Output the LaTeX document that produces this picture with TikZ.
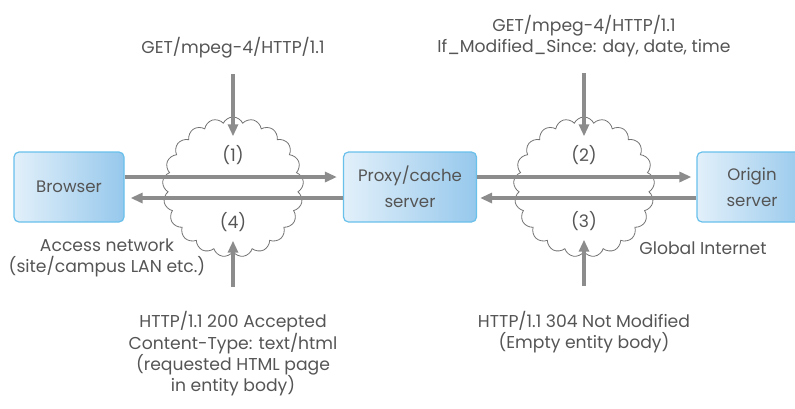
\documentclass[tikz,border=0pt]{standalone}
\usepackage{fontspec}
\setmainfont{Poppins}
\usetikzlibrary{arrows.meta,shapes.symbols}
\definecolor{boxleft}{RGB}{226,240,250}
\definecolor{boxright}{RGB}{150,200,236}
\definecolor{boxline}{RGB}{105,192,235}
\definecolor{arrowgray}{RGB}{140,140,140}
\definecolor{textgray}{RGB}{85,85,85}

\begin{document}
\begin{tikzpicture}[x=0.5pt, y=-0.5pt, >={Triangle[length=6pt,width=5pt]},
  host/.style={draw=boxline, line width=0.6pt, rounded corners=2.5pt, left color=boxleft, right color=boxright,
    minimum height=35pt, align=center, text=textgray, font=\fontsize{8.3}{13}\selectfont},
  net/.style={cloud, cloud puffs=21, cloud puff arc=130, aspect=1, draw=gray!90!black, line width=0.4pt,
    minimum width=70.5pt, minimum height=70pt, inner sep=0pt},
  flow/.style={->, line width=2pt, color=arrowgray},
  msg/.style={align=center, text=textgray, font=\fontsize{8.6}{10.7}\selectfont}]
\useasboundingbox (0,0) rectangle (795,408);

% the two networks
\node[net] (access) at (233,187) {};
\node[net] (internet) at (584,187) {};

% the hosts
\node[host, minimum width=55pt] (browser) at (69,187) {Browser};
\node[host, minimum width=66.5pt] (proxy) at (410,187) {Proxy/cache\\server};
\node[host, minimum width=55pt] (origin) at (752,187) {Origin\\server};

% requests and responses between the hosts
\draw[flow, shorten >=3pt] ([yshift=5pt]browser.east) -- ([yshift=5pt]proxy.west);
\draw[flow, shorten >=3pt] ([yshift=-5.5pt]proxy.west) -- ([yshift=-5.5pt]browser.east);
\draw[flow, shorten >=2.5pt] ([yshift=5pt]proxy.east) -- ([yshift=5pt]origin.west);
\draw[flow, shorten >=1.5pt] ([yshift=-5.5pt]origin.west) -- ([yshift=-5.5pt]proxy.east);

% step numbers
\node[msg] (n1) at (233,155) {(1)};
\node[msg] (n2) at (584,155) {(2)};
\node[msg] (n3) at (584,221) {(3)};
\node[msg] (n4) at (233,222) {(4)};

% the messages
\node[msg] (req1) at (233,48) {GET/mpeg-4/HTTP/1.1};
\node[msg] (req2) at (584,36) {GET/mpeg-4/HTTP/1.1\\If\_Modified\_Since: day, date, time};
\node[msg] (resp1) at (233,354) {HTTP/1.1 200 Accepted\\Content-Type: text/html\\(requested HTML page\\in entity body)};
\node[msg] (resp2) at (584,332) {HTTP/1.1 304 Not Modified\\(Empty entity body)};
\draw[flow, shorten <=4.5pt, shorten >=1pt] (req1) -- (n1);
\draw[flow, shorten <=4.5pt, shorten >=1pt] (req2) -- (n2);
\draw[flow, shorten <=9pt, shorten >=1pt] (resp1) -- (n4);
\draw[flow, shorten <=9pt, shorten >=1pt] (resp2) -- (n3);

% network names
\node[msg] (accessname) at (107,258) {Access network\\(site/campus LAN etc.)};
\node[msg] (internetname) at (703,248) {Global Internet};
\end{tikzpicture}
\end{document}
